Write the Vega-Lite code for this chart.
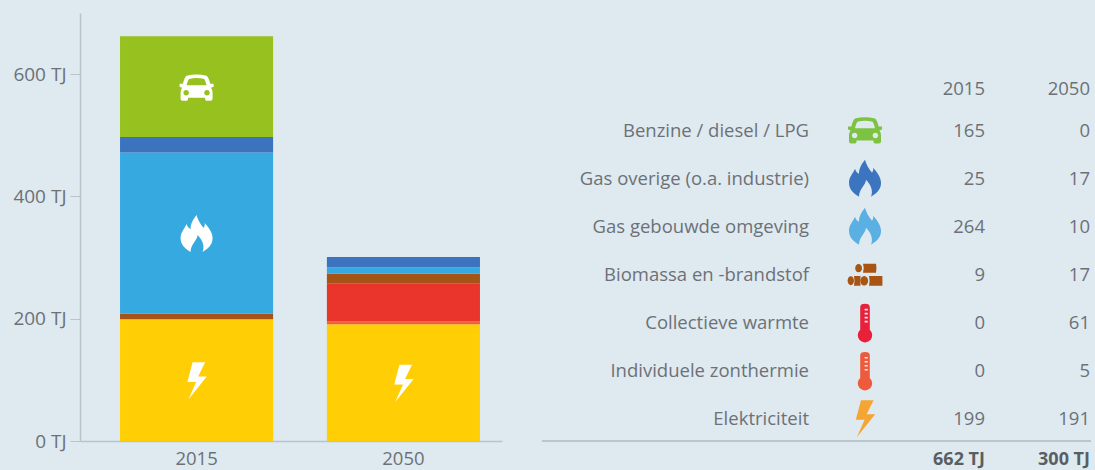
{
"$schema":"https://vega.github.io/schema/vega-lite/v6.json",
"background":"#deeaf0",
"padding":{"left":0,"top":13,"right":5,"bottom":0},
"config":{"view":{"stroke":null},"font":"Open Sans","concat":{"spacing":39}},
"resolve":{"scale":{"color":"independent","shape":"independent"}},
"datasets":{
"rijen":[
{"brandstof":"Elektriciteit","jaar":"2015","waarde":199,"volgorde":1},
{"brandstof":"Individuele zonthermie","jaar":"2015","waarde":0,"volgorde":2},
{"brandstof":"Collectieve warmte","jaar":"2015","waarde":0,"volgorde":3},
{"brandstof":"Biomassa en -brandstof","jaar":"2015","waarde":9,"volgorde":4},
{"brandstof":"Gas gebouwde omgeving","jaar":"2015","waarde":264,"volgorde":5},
{"brandstof":"Gas overige (o.a. industrie)","jaar":"2015","waarde":25,"volgorde":6},
{"brandstof":"Benzine / diesel / LPG","jaar":"2015","waarde":165,"volgorde":7},
{"brandstof":"Elektriciteit","jaar":"2050","waarde":191,"volgorde":1},
{"brandstof":"Individuele zonthermie","jaar":"2050","waarde":5,"volgorde":2},
{"brandstof":"Collectieve warmte","jaar":"2050","waarde":61,"volgorde":3},
{"brandstof":"Biomassa en -brandstof","jaar":"2050","waarde":17,"volgorde":4},
{"brandstof":"Gas gebouwde omgeving","jaar":"2050","waarde":10,"volgorde":5},
{"brandstof":"Gas overige (o.a. industrie)","jaar":"2050","waarde":17,"volgorde":6},
{"brandstof":"Benzine / diesel / LPG","jaar":"2050","waarde":0,"volgorde":7}
],
"totalen":[{"jaar":"2015","totaal":"662 TJ"},{"jaar":"2050","totaal":"300 TJ"}]
},
"hconcat":[
{
"width":422,"height":428,
"data":{"name":"rijen"},
"encoding":{
"x":{"field":"jaar","type":"nominal","title":null,"scale":{"paddingInner":0.26,"paddingOuter":0.15,"align":0.645},
"axis":{"labelAngle":0,"ticks":false,"domainColor":"#b9c3c9","domainWidth":1.5,"labelColor":"#6d7177","labelFontSize":18.5,"labelPadding":8}},
"y":{"field":"waarde","type":"quantitative","stack":"zero","title":null,"scale":{"domain":[0,700]},
"axis":{"values":[0,200,400,600],"labelExpr":"datum.value + ' TJ'","grid":false,"domainColor":"#b9c3c9","domainWidth":1.5,"tickColor":"#b9c3c9","tickSize":10,"labelPadding":4,"labelColor":"#6d7177","labelFontSize":19,"minExtent":80,"maxExtent":80}},
"order":{"field":"volgorde","type":"quantitative"}
},
"layer":[
{"mark":{"type":"bar"},
"encoding":{"color":{"field":"brandstof","type":"nominal","legend":null,"scale":{
"domain":["Elektriciteit","Individuele zonthermie","Collectieve warmte","Biomassa en -brandstof","Gas gebouwde omgeving","Gas overige (o.a. industrie)","Benzine / diesel / LPG"],
"range":["#ffce05","#f0603a","#e9352c","#a55416","#36a9e1","#3b73be","#96c11f"]}}}},
{"mark":{"type":"point","filled":true,"color":"#ffffff","size":1600,"strokeWidth":0,"yOffset":1},
"encoding":{
"y":{"field":"waarde","type":"quantitative","stack":"zero","bandPosition":0.5},
"detail":{"field":"brandstof"},
"opacity":{"condition":{"test":"datum.waarde > 100","value":1},"value":0},
"shape":{"field":"brandstof","type":"nominal","legend":null,"scale":{
"domain":["Elektriciteit","Gas gebouwde omgeving","Benzine / diesel / LPG","Gas overige (o.a. industrie)","Individuele zonthermie","Collectieve warmte","Biomassa en -brandstof"],
"range":[
"M-.2,-.94 L.43,-.94 L.08,-.23 L.51,-.23 L-.41,.92 L-.02,.04 L-.46,.04 Z",
"M0,-.95 C.1,-.6 .25,-.45 .35,-.3 C.42,-.4 .42,-.5 .4,-.55 C.7,-.25 .82,.05 .8,.25 C.78,.55 .55,.75 .3,.9 C.42,.6 .3,.3 .05,.05 C.05,.3 -.3,.5 -.3,.9 C-.55,.75 -.8,.55 -.8,.2 C-.8,-.1 -.6,-.25 -.5,-.5 C-.45,-.35 -.4,-.3 -.3,-.25 C-.3,-.55 -.15,-.75 0,-.95 Z",
"M-.5,-.6 Q0,-.72 .5,-.6 Q.62,-.5 .68,-.2 L.85,-.2 L.85,-.05 L.72,0 Q.8,.1 .8,.25 L.8,.55 Q.8,.65 .7,.65 L.5,.65 Q.42,.65 .42,.5 L-.42,.5 Q-.42,.65 -.5,.65 L-.7,.65 Q-.8,.65 -.8,.55 L-.8,.25 Q-.8,.1 -.72,0 L-.85,-.05 L-.85,-.2 L-.68,-.2 Q-.62,-.5 -.5,-.6 Z M-.5,-.12 L.5,-.12 Q.45,-.36 .38,-.44 Q0,-.54 -.38,-.44 Q-.45,-.36 -.5,-.12 Z M-.66,.25 a.14,.14 0 1 0 .28,0 a.14,.14 0 1 0 -.28,0 Z M.38,.25 a.14,.14 0 1 0 .28,0 a.14,.14 0 1 0 -.28,0 Z",
"M0,0","M0,0","M0,0","M0,0"]}}
}}
]
},
{
"width":549,"height":457,
"layer":[
{"data":{"name":"totalen"},
"mark":{"type":"text","align":"right","baseline":"middle","fontSize":18.5,"color":"#6d7177","yOffset":6.5},
"encoding":{
"x":{"field":"jaar","type":"nominal","axis":null,"scale":{"type":"point","padding":0,"domain":["icoon","2015","2050"],"range":[338,548]}},
"y":{"datum":"kop","type":"nominal","axis":null,"scale":{"type":"point","padding":0,"domain":["kop","Benzine / diesel / LPG","Gas overige (o.a. industrie)","Gas gebouwde omgeving","Biomassa en -brandstof","Collectieve warmte","Individuele zonthermie","Elektriciteit","totaal"],"range":[69.5,454]}},
"text":{"field":"jaar"}}},
{"data":{"name":"rijen"},
"mark":{"type":"text","align":"right","baseline":"middle","fontSize":18.5,"color":"#6d7177"},
"encoding":{"x":{"field":"jaar","type":"nominal","axis":null},"y":{"field":"brandstof","type":"nominal","axis":null},"text":{"field":"waarde","type":"quantitative"}}},
{"data":{"name":"rijen"},"transform":[{"filter":"datum.jaar == '2015'"}],
"mark":{"type":"text","align":"right","baseline":"middle","fontSize":18.5,"color":"#6d7177","xOffset":-71},
"encoding":{"x":{"datum":"icoon","type":"nominal","axis":null},"y":{"field":"brandstof","type":"nominal","axis":null},"text":{"field":"brandstof"}}},
{"data":{"name":"rijen"},"transform":[{"filter":"datum.jaar == '2015'"}],
"mark":{"type":"point","filled":true,"size":1600,"opacity":1,"strokeWidth":0,"xOffset":-15},
"encoding":{"x":{"datum":"icoon","type":"nominal","axis":null},"y":{"field":"brandstof","type":"nominal","axis":null},
"color":{"field":"brandstof","type":"nominal","legend":null,"scale":{
"domain":["Elektriciteit","Individuele zonthermie","Collectieve warmte","Biomassa en -brandstof","Gas gebouwde omgeving","Gas overige (o.a. industrie)","Benzine / diesel / LPG"],
"range":["#f5a533","#ee5b3c","#e8203a","#a85412","#5bb0e3","#3b74bf","#7ec242"]}},
"shape":{"field":"brandstof","type":"nominal","legend":null,"scale":{
"domain":["Elektriciteit","Gas gebouwde omgeving","Benzine / diesel / LPG","Gas overige (o.a. industrie)","Individuele zonthermie","Collectieve warmte","Biomassa en -brandstof"],
"range":[
"M-.2,-.94 L.43,-.94 L.08,-.23 L.51,-.23 L-.41,.92 L-.02,.04 L-.46,.04 Z",
"M0,-.95 C.1,-.6 .25,-.45 .35,-.3 C.42,-.4 .42,-.5 .4,-.55 C.7,-.25 .82,.05 .8,.25 C.78,.55 .55,.75 .3,.9 C.42,.6 .3,.3 .05,.05 C.05,.3 -.3,.5 -.3,.9 C-.55,.75 -.8,.55 -.8,.2 C-.8,-.1 -.6,-.25 -.5,-.5 C-.45,-.35 -.4,-.3 -.3,-.25 C-.3,-.55 -.15,-.75 0,-.95 Z",
"M-.5,-.6 Q0,-.72 .5,-.6 Q.62,-.5 .68,-.2 L.85,-.2 L.85,-.05 L.72,0 Q.8,.1 .8,.25 L.8,.55 Q.8,.65 .7,.65 L.5,.65 Q.42,.65 .42,.5 L-.42,.5 Q-.42,.65 -.5,.65 L-.7,.65 Q-.8,.65 -.8,.55 L-.8,.25 Q-.8,.1 -.72,0 L-.85,-.05 L-.85,-.2 L-.68,-.2 Q-.62,-.5 -.5,-.6 Z M-.5,-.12 L.5,-.12 Q.45,-.36 .38,-.44 Q0,-.54 -.38,-.44 Q-.45,-.36 -.5,-.12 Z M-.66,.25 a.14,.14 0 1 0 .28,0 a.14,.14 0 1 0 -.28,0 Z M.38,.25 a.14,.14 0 1 0 .28,0 a.14,.14 0 1 0 -.28,0 Z",
"M0,-.95 C.1,-.6 .25,-.45 .35,-.3 C.42,-.4 .42,-.5 .4,-.55 C.7,-.25 .82,.05 .8,.25 C.78,.55 .55,.75 .3,.9 C.42,.6 .3,.3 .05,.05 C.05,.3 -.3,.5 -.3,.9 C-.55,.75 -.8,.55 -.8,.2 C-.8,-.1 -.6,-.25 -.5,-.5 C-.45,-.35 -.4,-.3 -.3,-.25 C-.3,-.55 -.15,-.75 0,-.95 Z",
"M-.24,-.78 Q-.24,-.95 0,-.95 Q.24,-.95 .24,-.78 L.24,.35 A.36,.36 0 1 1 -.24,.35 Z M-.02,-.7 L-.02,-.62 L.14,-.62 L.14,-.7 Z M-.02,-.5 L-.02,-.42 L.14,-.42 L.14,-.5 Z M-.02,-.3 L-.02,-.22 L.14,-.22 L.14,-.3 Z M-.02,-.1 L-.02,-.02 L.14,-.02 L.14,-.1 Z",
"M-.24,-.78 Q-.24,-.95 0,-.95 Q.24,-.95 .24,-.78 L.24,.35 A.36,.36 0 1 1 -.24,.35 Z M-.02,-.7 L-.02,-.62 L.14,-.62 L.14,-.7 Z M-.02,-.5 L-.02,-.42 L.14,-.42 L.14,-.5 Z M-.02,-.3 L-.02,-.22 L.14,-.22 L.14,-.3 Z M-.02,-.1 L-.02,-.02 L.14,-.02 L.14,-.1 Z",
"M-.49,-.33 a.17,.21 0 1 1 .34,0 a.17,.21 0 1 1 -.34,0 Z M-.1,-.55 L.55,-.55 Q.6,-.33 .55,-.1 L-.1,-.1 Q-.02,-.33 -.1,-.55 Z M-.87,.3 a.16,.22 0 1 1 .32,0 a.16,.22 0 1 1 -.32,0 Z M-.24,.3 a.2,.24 0 1 1 .4,0 a.2,.24 0 1 1 -.4,0 Z M-.55,.06 L-.22,.06 Q-.28,.3 -.22,.55 L-.55,.55 Q-.5,.3 -.55,.06 Z M.2,.06 L.87,.06 L.87,.55 L.2,.55 Q.26,.3 .2,.06 Z"
]}}}},
{"data":{"name":"totalen"},
"mark":{"type":"text","align":"right","baseline":"middle","fontSize":18,"fontWeight":"bold","color":"#5a5e63","yOffset":-7},
"encoding":{"x":{"field":"jaar","type":"nominal","axis":null},"y":{"datum":"totaal","type":"nominal","axis":null},"text":{"field":"totaal"}}},
{"data":{"name":"totalen"},
"mark":{"type":"rule","color":"#b9c3c9","strokeWidth":1.5,"yOffset":22},
"encoding":{"y":{"datum":"Elektriciteit","type":"nominal","axis":null}}}
]
}
]
}
